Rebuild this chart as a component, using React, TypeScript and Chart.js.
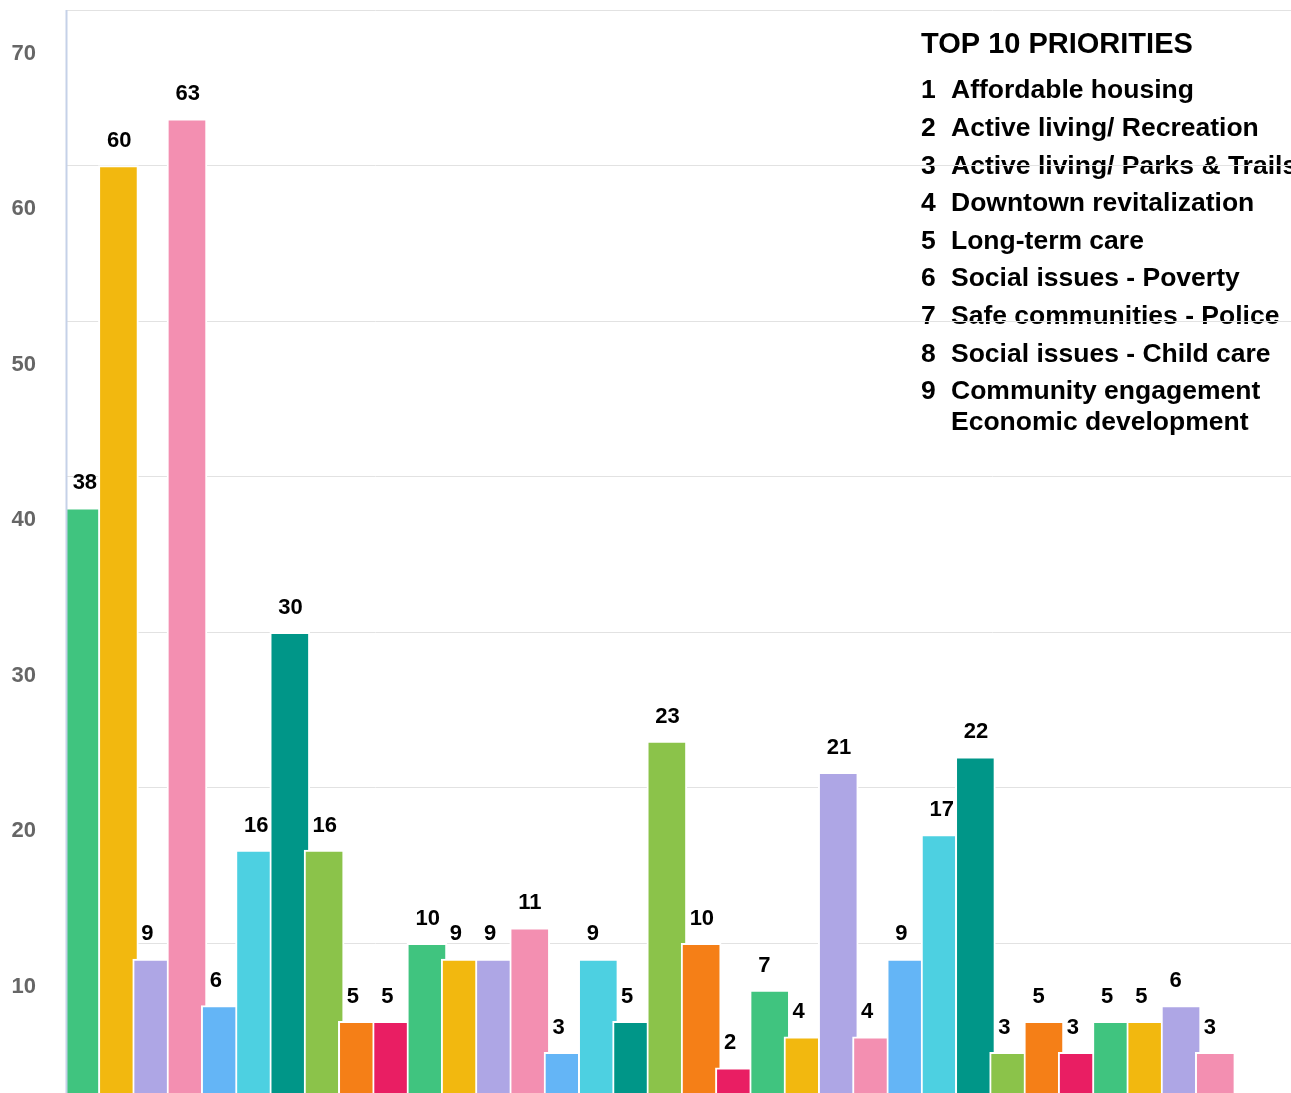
import React, { useEffect, useRef } from "react";
import { Chart, registerables } from "chart.js";

Chart.register(...registerables);

// ---- data ----
const priorities = [
  "Affordable housing",
  "Active living/ Recreation",
  "Active living/ Parks & Trails",
  "Downtown revitalization",
  "Long-term care",
  "Social issues - Poverty",
  "Safe communities - Police",
  "Social issues - Child care",
  "Community engagement",
  "Economic development",
];
const priorityNumbers = ["1", "2", "3", "4", "5", "6", "7", "8", "9", ""];
const legendTitle = "TOP 10 PRIORITIES";

const group1Values = [38, 60, 9, 63, 6, 16, 30, 16, 5, 5];
const group2Values = [10, 9, 9, 11, 3, 9, 5, 23, 10, 2];
const group3Values = [7, 4, 21, 4, 9, 17, 22, 3, 5, 3];
const group4Values = [5, 5, 6, 3];
const groupNames = ["Group 1", "Group 2", "Group 3", "Group 4"];
const emptySlots = 2;

const yTicks = [0, 10, 20, 30, 40, 50, 60, 70];

const barColors = [
  "#40c47f",
  "#f2b80f",
  "#aea6e5",
  "#f38fb1",
  "#64b5f6",
  "#4dd0e1",
  "#009688",
  "#8bc34a",
  "#f57f17",
  "#e91e63",
];

const FONT = "'Liberation Sans', Arial, Helvetica, sans-serif";

export default function App() {
  const canvasRef = useRef<HTMLCanvasElement | null>(null);

  useEffect(() => {
    const canvas = canvasRef.current;
    if (!canvas) return;

    const groups = [group1Values, group2Values, group3Values, group4Values];
    const labels: string[] = [];
    const values: (number | null)[] = [];
    const colors: string[] = [];
    groups.forEach((g, gi) => {
      g.forEach((v, i) => {
        labels.push(groupNames[gi] + " - " + priorities[i]);
        values.push(v);
        colors.push(barColors[i]);
      });
    });
    for (let k = 0; k < emptySlots; k++) {
      labels.push("");
      values.push(null);
      colors.push("#ffffff");
    }

    const legendPlugin = {
      id: "priorityLegend",
      beforeDraw(chart: any) {
        const ctx = chart.ctx;
        ctx.save();
        ctx.fillStyle = "#000000";
        ctx.textBaseline = "alphabetic";
        ctx.textAlign = "left";
        ctx.font = "bold 29px " + FONT;
        ctx.fillText(legendTitle, 921, 52.5);
        ctx.font = "bold 26.5px " + FONT;
        let y = 98.3;
        priorities.forEach((p, i) => {
          if (i > 0) y += i === priorities.length - 1 ? 31 : 37.6;
          ctx.fillText(priorityNumbers[i], 921, y);
          ctx.fillText(p, 951, y);
        });
        ctx.restore();
      },
    };

    const dataLabelPlugin = {
      id: "barValueLabels",
      afterDatasetsDraw(chart: any) {
        const ctx = chart.ctx;
        const meta = chart.getDatasetMeta(0);
        const data = chart.data.datasets[0].data;
        ctx.save();
        ctx.fillStyle = "#000000";
        ctx.font = "bold 22px " + FONT;
        ctx.textAlign = "left";
        ctx.textBaseline = "alphabetic";
        meta.data.forEach((bar: any, i: number) => {
          const v = data[i];
          if (v === null || v === undefined) return;
          ctx.fillText(String(v), bar.x - 11.5, bar.y - 18.5);
        });
        ctx.restore();
      },
    };

    const axisLinePlugin = {
      id: "axisLineOnTop",
      afterDatasetsDraw(chart: any) {
        const ctx = chart.ctx;
        const area = chart.chartArea;
        ctx.save();
        ctx.strokeStyle = "#c5d1e8";
        ctx.lineWidth = 2;
        ctx.beginPath();
        ctx.moveTo(area.left - 0.5, area.top);
        ctx.lineTo(area.left - 0.5, chart.height);
        ctx.stroke();
        ctx.restore();
      },
    };

    const chart = new Chart(canvas, {
      type: "bar",
      data: {
        labels,
        datasets: [
          {
            data: values,
            backgroundColor: colors,
            borderColor: "#ffffff",
            borderWidth: 2,
            borderSkipped: false,
            barThickness: 40,
            clip: 0,
          } as any,
        ],
      },
      options: {
        responsive: false,
        animation: false,
        devicePixelRatio: 1,
        layout: { padding: { top: 10, bottom: 1, left: 0, right: 0 } },
        plugins: {
          legend: { display: false },
          tooltip: { enabled: false },
        },
        scales: {
          x: {
            display: false,
            offset: true,
          },
          y: {
            min: yTicks[0],
            max: yTicks[yTicks.length - 1],
            afterBuildTicks: (scale: any) => {
              scale.ticks = yTicks.map((v) => ({ value: v }));
            },
            afterFit: (scale: any) => {
              scale.width = 67;
              scale.paddingTop = 0;
              scale.paddingBottom = 0;
            },
            grid: {
              color: "#e2e2e2",
              lineWidth: 1,
              drawTicks: false,
            },
            border: { display: false },
            ticks: {
              padding: 31,
              labelOffset: 43.5,
              color: "#666666",
              font: { family: FONT, size: 22, weight: "bold" },
              autoSkip: false,
            },
          },
        },
      },
      plugins: [legendPlugin, dataLabelPlugin, axisLinePlugin],
    });

    return () => chart.destroy();
  }, []);

  return (
    <div
      style={{
        position: "fixed",
        left: 0,
        top: 0,
        width: 1291,
        height: 1093,
        overflow: "hidden",
        background: "#ffffff",
      }}
    >
      <canvas
        ref={canvasRef}
        width={1301}
        height={1100}
        style={{ display: "block", width: 1301, height: 1100 }}
      />
    </div>
  );
}
